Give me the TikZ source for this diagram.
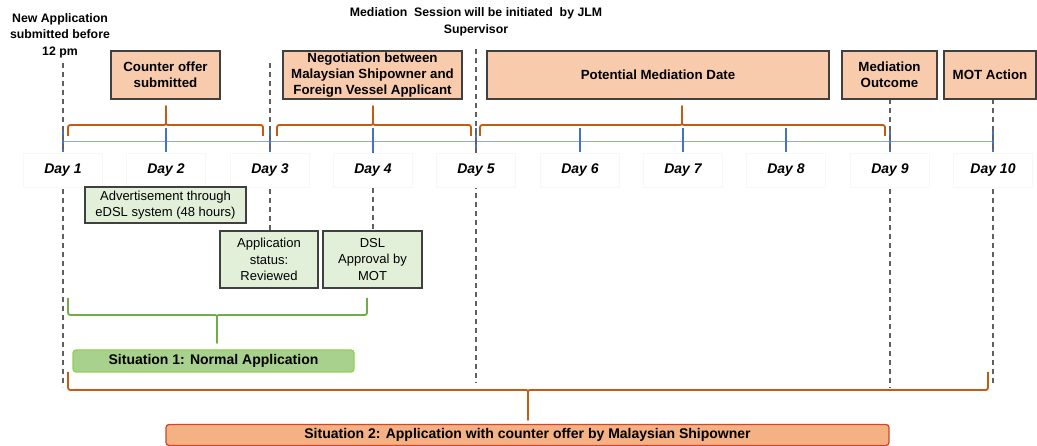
\documentclass[tikz,border=0pt]{standalone}
\usepackage{fontspec}
\setmainfont{Liberation Sans}
\usetikzlibrary{calc}
\definecolor{boxor}{HTML}{F8CBAD}
\definecolor{boxgr}{HTML}{E2F0D9}
\definecolor{edge}{HTML}{404040}
\definecolor{axisblue}{HTML}{8FAADC}
\definecolor{tickblue}{HTML}{4472C4}
\definecolor{braceor}{HTML}{C55A11}
\definecolor{bracegr}{HTML}{70AD47}
\definecolor{sitgfill}{HTML}{A9D18E}
\definecolor{sitgdraw}{HTML}{92D050}
\definecolor{sitofill}{HTML}{F4B183}
\definecolor{sitodraw}{HTML}{D0452B}
\definecolor{dashgray}{HTML}{606060}
\newcommand\hbrace[7]{%
 \pgfmathsetmacro\brsign{(#5>#6)?1:-1}%
 \draw[#1] (#2,#5) -- (#2,{#6+5*\brsign}) .. controls (#2,#6) .. ({#2+5},#6) -- ({#4-4},#6) .. controls (#4,#6) .. (#4,{#6-4*\brsign}) -- (#4,#7) -- (#4,{#6-4*\brsign}) .. controls (#4,#6) .. ({#4+4},#6) -- ({#3-5},#6) .. controls (#3,#6) .. (#3,{#6+5*\brsign}) -- (#3,#5);
}
\begin{document}
\begin{tikzpicture}[x=1pt,y=-1pt,
 obox/.style={draw=edge, fill=boxor, line width=1.4pt, inner sep=0pt, align=center, font=\fontsize{13.3}{16}\selectfont\bfseries},
 gbox/.style={draw=edge, fill=boxgr, line width=1.4pt, inner sep=0pt, align=center, font=\fontsize{13}{16.3}\selectfont},
 daylbl/.style={fill=white, draw=black!3, minimum width=79pt, minimum height=34pt, inner sep=0pt, font=\fontsize{14}{16}\selectfont\bfseries\itshape},
 guide/.style={draw=dashgray, line width=1.5pt, dash pattern=on 5.5pt off 3.5pt},
 tickmark/.style={draw=tickblue, line width=1.4pt},
 obrace/.style={draw=braceor, line width=1.8pt, line join=round},
 gbrace/.style={draw=bracegr, line width=1.8pt, line join=round},
 toptext/.style={align=center, inner sep=0pt, font=\fontsize{12.3}{16.5}\selectfont\bfseries},
 sitg/.style={draw=sitgdraw, fill=sitgfill, line width=1.3pt, rounded corners=3pt, inner sep=0pt, font=\fontsize{14}{16}\selectfont\bfseries},
 sito/.style={draw=sitodraw, fill=sitofill, line width=1.3pt, rounded corners=3pt, inner sep=0pt, font=\fontsize{14}{16}\selectfont\bfseries},
]
\useasboundingbox (0,0) rectangle (1037,446);
\foreach \x [count=\i] in {63,166,270,373,476,580,683,786,890,993} \coordinate (d\i) at (\x,142);

% top texts
\node[toptext] (newapp) at (60,35.5) {New Application\\submitted before\\12 pm};
\node[toptext] (medsess) at (476,22) {Mediation~ Session will be initiated~ by JLM\\Supervisor};

% axis and ticks
\draw[axisblue, line width=1pt] (d1) -- (d10);
\foreach \i in {1,...,10} \draw[tickmark] ($(d\i)+(0,-14)$) -- ($(d\i)+(0,10)$);

% reference points for guide lines
\coordinate (boxbot) at (0,99);
\coordinate (grtop) at (0,231);

% dashed guide lines
\draw[guide] ($(d1)+(0,-79)$) -- ($(d1)+(0,245)$);
\draw[guide] ($(d3)+(0,-79)$) -- (d3 |- grtop);
\draw[guide] ($(d4)+(0,10)$) -- (d4 |- grtop);
\draw[guide] ($(d5)+(0,-93)$) -- ($(d5)+(0,241)$);
\draw[guide] (d9 |- boxbot) -- ($(d9)+(0,246)$);
\draw[guide] (d10 |- boxbot) -- ($(d10)+(0,243)$);

% day labels
\foreach \i in {1,...,10} \node[daylbl] (l\i) at ($(d\i)+(0,28)$) {Day \i};

% boxes
\path
 (165.5,75) node[obox, minimum width=109pt, minimum height=48pt] (counter) {Counter offer\\submitted}
 (372.5,75) node[obox, minimum width=179pt, minimum height=48pt] (nego) {Negotiation between\\Malaysian Shipowner and\\Foreign Vessel Applicant}
 (658,75) node[obox, minimum width=342pt, minimum height=48pt] (potential) {Potential Mediation Date}
 (889.5,75) node[obox, minimum width=95pt, minimum height=48pt] (medout) {Mediation\\Outcome}
 (990,75) node[obox, minimum width=92pt, minimum height=48pt] (motact) {MOT Action}
 (165.5,205) node[gbox, minimum width=161pt, minimum height=36pt] (advert) {Advertisement through\\eDSL system (48 hours)}
 (269,259.5) node[gbox, minimum width=98pt, minimum height=57pt] (appstat) {Application\\status:\\Reviewed}
 (372.5,259.5) node[gbox, minimum width=99pt, minimum height=57pt] (dsl) {DSL\\Approval by\\MOT};

% braces
\hbrace{obrace}{68}{263}{166}{136}{125}{106}
\hbrace{obrace}{277}{471}{373}{136}{125}{106}
\hbrace{obrace}{480}{885}{682}{136}{125}{106}
\hbrace{gbrace}{68}{367}{217}{298}{315}{343}
\hbrace{obrace}{68}{988}{528}{372}{390}{420}

% situations
\node[sitg, minimum width=281pt, minimum height=22pt] (sit1) at (213.5,361) {Situation 1: Normal Application};
\node[sito, minimum width=723pt, minimum height=21pt] (sit2) at (527.5,435) {Situation 2: Application with counter offer by Malaysian Shipowner};
\end{tikzpicture}
\end{document}
